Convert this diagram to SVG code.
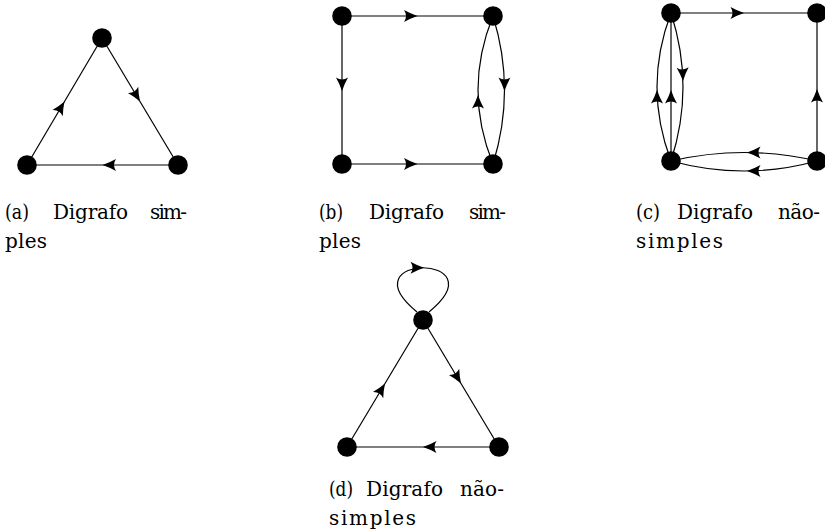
<svg xmlns="http://www.w3.org/2000/svg" xmlns:xlink="http://www.w3.org/1999/xlink" width="825" height="531" viewBox="0 0 825 531">
<style>
.e{fill:none;stroke:#000;stroke-width:1.2}
.n{fill:#000}
.ah{fill:#000}
text{font-family:"DejaVu Serif","Liberation Serif",serif;font-size:20px;fill:#000}
</style>
<defs>
<path id="ah" d="M0,0 Q-7,-2.4 -13.5,-6 Q-9.5,0 -13.5,6 Q-7,2.4 0,0 Z"/>
</defs>
<rect width="825" height="531" fill="#fff"/>
<g id="connectors">
<!-- (a) -->
<line class="e" x1="27" y1="165" x2="102" y2="38"/>
<line class="e" x1="102" y1="38" x2="178" y2="165"/>
<line class="e" x1="178" y1="165" x2="27" y2="165"/>
<use href="#ah" class="ah" transform="translate(64.5,101.5) rotate(-59.4)"/>
<use href="#ah" class="ah" transform="translate(140,101.5) rotate(59.1)"/>
<use href="#ah" class="ah" transform="translate(102.5,165) rotate(180)"/>
<!-- (b) -->
<line class="e" x1="342" y1="16" x2="493" y2="16"/>
<line class="e" x1="342" y1="16" x2="342" y2="164"/>
<line class="e" x1="342" y1="164" x2="493" y2="164"/>
<path class="e" d="M493,16 Q516,90 493,164"/>
<path class="e" d="M493,164 Q463,90 493,16"/>
<use href="#ah" class="ah" transform="translate(417.5,16)"/>
<use href="#ah" class="ah" transform="translate(342,91) rotate(90)"/>
<use href="#ah" class="ah" transform="translate(417.5,164)"/>
<use href="#ah" class="ah" transform="translate(504.5,91) rotate(90)"/>
<use href="#ah" class="ah" transform="translate(478,95) rotate(-90)"/>
<!-- (c) -->
<line class="e" x1="671" y1="13" x2="817" y2="13"/>
<line class="e" x1="817" y1="161" x2="817" y2="13"/>
<line class="e" x1="671" y1="161" x2="671" y2="13"/>
<path class="e" d="M671,161 Q643,87 671,13"/>
<path class="e" d="M671,13 Q695,87 671,161"/>
<path class="e" d="M817,161 Q744,144 671,161"/>
<path class="e" d="M817,161 Q744,181 671,161"/>
<use href="#ah" class="ah" transform="translate(744,13)"/>
<use href="#ah" class="ah" transform="translate(817,89) rotate(-90)"/>
<use href="#ah" class="ah" transform="translate(657,90) rotate(-90)"/>
<use href="#ah" class="ah" transform="translate(671,90) rotate(-90)"/>
<use href="#ah" class="ah" transform="translate(683,81) rotate(88.5)"/>
<use href="#ah" class="ah" transform="translate(747,152.5) rotate(180)"/>
<use href="#ah" class="ah" transform="translate(747,171) rotate(180)"/>
<!-- (d) -->
<line class="e" x1="347" y1="447" x2="423" y2="320"/>
<line class="e" x1="423" y1="320" x2="499" y2="447"/>
<line class="e" x1="499" y1="447" x2="347" y2="447"/>
<path class="e" d="M417,312 C345,253 501,253 429,312"/>
<use href="#ah" class="ah" transform="translate(385,383.5) rotate(-59.1)"/>
<use href="#ah" class="ah" transform="translate(461,383.5) rotate(59.1)"/>
<use href="#ah" class="ah" transform="translate(423,447) rotate(180)"/>
<use href="#ah" class="ah" transform="translate(424,267.8)"/>
</g>
<g id="graph-a">
<circle id="a1" class="n" cx="102" cy="38" r="9.8"/>
<circle id="a2" class="n" cx="27" cy="165" r="9.8"/>
<circle id="a3" class="n" cx="178" cy="165" r="9.8"/>
</g>
<g id="graph-b">
<circle id="b1" class="n" cx="342" cy="16" r="9.8"/>
<circle id="b2" class="n" cx="493" cy="16" r="9.8"/>
<circle id="b3" class="n" cx="342" cy="164" r="9.8"/>
<circle id="b4" class="n" cx="493" cy="164" r="9.8"/>
</g>
<g id="graph-c">
<circle id="c1" class="n" cx="671" cy="13" r="9.8"/>
<circle id="c2" class="n" cx="817" cy="13" r="9.8"/>
<circle id="c3" class="n" cx="671" cy="161" r="9.8"/>
<circle id="c4" class="n" cx="817" cy="161" r="9.8"/>
</g>
<g id="graph-d">
<circle id="d1" class="n" cx="423" cy="320" r="9.8"/>
<circle id="d2" class="n" cx="347" cy="447" r="9.8"/>
<circle id="d3" class="n" cx="499" cy="447" r="9.8"/>
</g>
<g id="captions">
<g id="caption-a">
<text x="5" y="219" textLength="24" lengthAdjust="spacingAndGlyphs">(a)</text>
<text x="53" y="219" textLength="75" lengthAdjust="spacing">Digrafo</text>
<text x="150" y="219" textLength="37" lengthAdjust="spacing">sim-</text>
<text x="5" y="248" textLength="42" lengthAdjust="spacing">ples</text>
</g>
<g id="caption-b">
<text x="319" y="219" textLength="24" lengthAdjust="spacingAndGlyphs">(b)</text>
<text x="369" y="219" textLength="75" lengthAdjust="spacing">Digrafo</text>
<text x="469" y="219" textLength="37" lengthAdjust="spacing">sim-</text>
<text x="319" y="248" textLength="42" lengthAdjust="spacing">ples</text>
</g>
<g id="caption-c">
<text x="636" y="219" textLength="24" lengthAdjust="spacingAndGlyphs">(c)</text>
<text x="677" y="219" textLength="76" lengthAdjust="spacing">Digrafo</text>
<text x="778" y="219" textLength="42" lengthAdjust="spacing">não-</text>
<text x="636" y="248" textLength="87" lengthAdjust="spacing">simples</text>
</g>
<g id="caption-d">
<text x="329" y="496" textLength="24" lengthAdjust="spacingAndGlyphs">(d)</text>
<text x="366" y="496" textLength="77" lengthAdjust="spacing">Digrafo</text>
<text x="460" y="496" textLength="44" lengthAdjust="spacing">não-</text>
<text x="329" y="525" textLength="87" lengthAdjust="spacing">simples</text>
</g>
</g>
</svg>
